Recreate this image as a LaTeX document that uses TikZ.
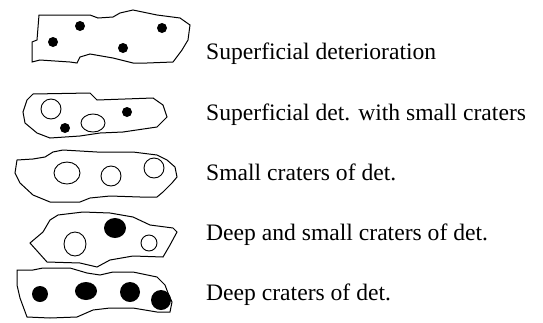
\documentclass[tikz,border=0pt]{standalone}
\usepackage{fontspec}
\setmainfont{Liberation Serif}
\usetikzlibrary{positioning}

\tikzset{
  blob/.style={draw, line width=1pt},
  pit/.style={fill=black},
  crater/.style={draw, line width=0.9pt},
  caption/.style={anchor=base west, inner sep=0pt, font=\fontsize{23.6}{28}\selectfont}
}

\begin{document}
\begin{tikzpicture}[x=1pt,y=-1pt]
                    \useasboundingbox (0,0) rectangle (543,322);
                    % superficial deterioration
                    \draw[blob] (39,15) -- (90,15) -- (98,18) -- (113,17) -- (120,13) -- (133,10) -- (157,15) -- (180,18) -- (190,25)
                        -- (188,40) -- (182,50) -- (173,62) -- (147,63) -- (133,63) -- (113,58) -- (90,54) -- (80,57) -- (77,63)
                        -- (70,62) -- (40,60) -- (32,62) -- (32,42) -- (37,40) -- cycle;
                    \foreach \x/\y in {53/42, 80/26, 123/48, 162/28}{
                        \fill[pit] (\x,\y) circle (5);
                    }
                    % superficial det. with small craters
                    \draw[blob] (33,94) -- (90,93) -- (97,100) -- (153,98) -- (163,105) -- (167,117) -- (157,127) -- (123,132)
                        -- (100,133) -- (80,136) -- (50,138) -- (37,133) -- (25,123) -- (23,112) -- (27,100) -- cycle;
                    \draw[crater] (51,109) ellipse [x radius=10, y radius=10];
                    \draw[crater] (93,123) ellipse [x radius=12, y radius=9];
                    \foreach \x/\y in {65/128, 127/112}{
                        \fill[pit] (\x,\y) circle (5);
                    }
                    % small craters
                    \draw[blob] (17,160) -- (33,159) -- (45,157) -- (53,152) -- (63,150) -- (97,152) -- (133,152) -- (157,155)
                        -- (167,160) -- (175,167) -- (177,177) -- (172,183) -- (163,192) -- (157,197) -- (140,197) -- (110,196)
                        -- (90,198) -- (80,202) -- (50,202) -- (33,195) -- (20,183) -- (15,173) -- cycle;
                    \draw[crater] (67,173) ellipse [x radius=13, y radius=11];
                    \foreach \x/\y in {111/176, 154/168}{
                        \draw[crater] (\x,\y) circle (10);
                    }
                    % deep and small craters
                    \draw[blob] (50,220) -- (58,215) -- (83,212) -- (110,213) -- (133,217) -- (150,225) -- (173,228) -- (177,232)
                        -- (170,245) -- (163,257) -- (133,256) -- (110,260) -- (97,267) -- (80,263) -- (47,262) -- (30,243)
                        -- (43,232) -- cycle;
                    \draw[crater] (75,244) ellipse [x radius=11, y radius=12];
                    \draw[crater] (149,243) circle (8);
                    \fill[pit] (115,228) ellipse [x radius=11, y radius=10];
                    % deep craters
                    \draw[blob] (17,270) -- (33,270) -- (43,268) -- (70,268) -- (87,273) -- (100,275) -- (113,272) -- (133,272)
                        -- (157,277) -- (165,285) -- (168,293) -- (172,302) -- (170,312) -- (157,312) -- (133,308) -- (110,308)
                        -- (93,310) -- (77,317) -- (50,318) -- (27,317) -- (20,298) -- (17,285) -- cycle;
                    \foreach \x/\y/\r in {40/294/8, 130/292/10, 161/300/10}{
                        \fill[pit] (\x,\y) circle (\r);
                    }
                    \fill[pit] (86,291) ellipse [x radius=11, y radius=9];
                    % captions
                    \node[caption] (superficial) at (206,59) {Superficial deterioration};
                    \node[caption] (withcraters) at (206,120) {Superficial det. with small craters};
                    \node[caption] (small) at (206,180) {Small craters of det.};
                    \node[caption] (deepsmall) at (206,240) {Deep and small craters of det.};
                    \node[caption] (deep) at (206,300) {Deep craters of det.};
                \end{tikzpicture}
\end{document}
